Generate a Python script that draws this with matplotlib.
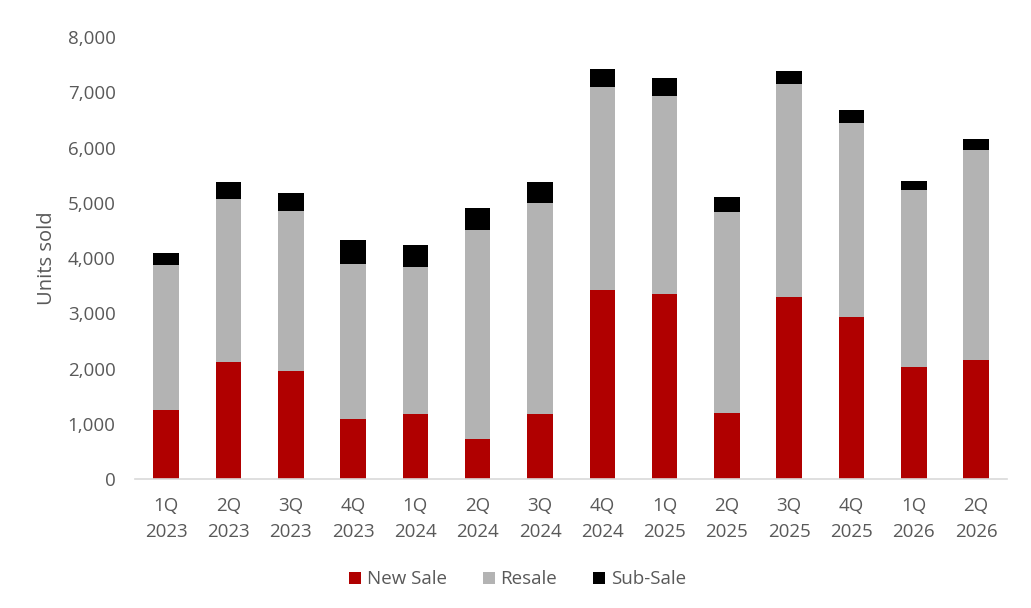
import matplotlib
matplotlib.use("Agg")
from matplotlib import pyplot as plt
from matplotlib.ticker import FuncFormatter

quarters = ["1Q\n2023", "2Q\n2023", "3Q\n2023", "4Q\n2023",
            "1Q\n2024", "2Q\n2024", "3Q\n2024", "4Q\n2024",
            "1Q\n2025", "2Q\n2025", "3Q\n2025", "4Q\n2025",
            "1Q\n2026", "2Q\n2026"]
new_sale = [1250, 2120, 1960, 1080, 1175, 720, 1175, 3425, 3355, 1205, 3290, 2935, 2025, 2150]
resale = [2620, 2950, 2890, 2820, 2660, 3795, 3830, 3665, 3570, 3635, 3865, 3510, 3215, 3805]
sub_sale = [230, 300, 330, 430, 400, 400, 365, 330, 330, 265, 230, 230, 160, 200]

plt.rcParams['font.family'] = ['Open Sans', 'DejaVu Sans']
text_color = "#595959"

fig = plt.figure(figsize=(10.31, 6.08), dpi=100)
ax = fig.add_axes([0.131, 0.212, 0.846, 0.727])

x = list(range(len(quarters)))
w = 0.41
ax.bar(x, new_sale, w, color="#b00000", label="New Sale")
ax.bar(x, resale, w, bottom=new_sale, color="#b3b3b3", label="Resale")
bottom2 = [a + b for a, b in zip(new_sale, resale)]
ax.bar(x, sub_sale, w, bottom=bottom2, color="#000000", label="Sub-Sale")

ax.set_xlim(-0.5, len(quarters) - 0.5)
ax.set_ylim(0, 8000)
ax.set_yticks(range(0, 8001, 1000))
ax.yaxis.set_major_formatter(FuncFormatter(lambda v, p: f"{int(v):,}"))
ax.set_xticks(x)
ax.set_xticklabels(quarters, linespacing=1.55)

for s in ["top", "right", "left"]:
    ax.spines[s].set_visible(False)
ax.spines["bottom"].set_color("#d9d9d9")
ax.spines["bottom"].set_linewidth(1.2)
ax.tick_params(axis="both", length=0, labelsize=13.5, colors=text_color)
ax.tick_params(axis="x", pad=13)
ax.tick_params(axis="y", pad=14)
ax.set_ylabel("Units sold", fontsize=14.5, color=text_color, labelpad=8)

handles, labels = ax.get_legend_handles_labels()
fig.legend(handles, labels, loc="center", bbox_to_anchor=(0.502, 0.047), ncol=3, frameon=False,
           fontsize=13.5, labelcolor=text_color, handlelength=0.65, handleheight=0.65,
           handletextpad=0.3, columnspacing=1.9)

fig.savefig("out.png", dpi=100)
